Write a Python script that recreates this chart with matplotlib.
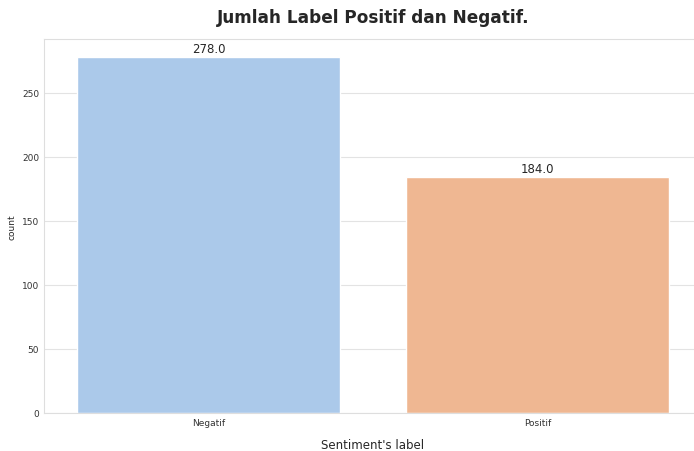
import matplotlib
matplotlib.use('Agg')
import matplotlib.pyplot as plt
import seaborn as sns

# counts per sentiment label
labels = ['Negatif', 'Positif']
counts = [278, 184]

sns.set_style('whitegrid')
fig = plt.figure(figsize=(6.94, 4.52), dpi=100)
ax = fig.add_axes([44 / 694, 38 / 452, 658 / 694, 374 / 452])

colors = [sns.desaturate(c, 0.75) for c in sns.color_palette('pastel')[:2]]
bars = ax.bar(range(len(labels)), counts, width=0.8, color=colors)
ax.set_xticks(range(len(labels)))
ax.set_xticklabels(labels)
ax.set_xlim(-0.5, 1.5)
ax.set_ylim(0, 292)
ax.set_yticks([0, 50, 100, 150, 200, 250])
ax.grid(axis='x', visible=False)
ax.grid(axis='y', color='.89')
for s in ax.spines.values():
    s.set_color('.87')
ax.tick_params(labelsize=6.5, colors='.2', length=0)

for b, v in zip(bars, counts):
    ax.annotate(f'{float(v)}', (b.get_x() + b.get_width() / 2, v),
                xytext=(0, 1.5), textcoords='offset points',
                ha='center', va='bottom', fontsize=8.5, color='.15')

ax.set_ylabel('count', fontsize=6.5, color='.15')
ax.set_xlabel("Sentiment's label", fontsize=8.5, color='.15', labelpad=8)
ax.set_title('Jumlah Label Positif dan Negatif.', fontsize=12.2, fontweight='bold',
             color='.15', pad=12)

fig.savefig('out.png', dpi=100)
